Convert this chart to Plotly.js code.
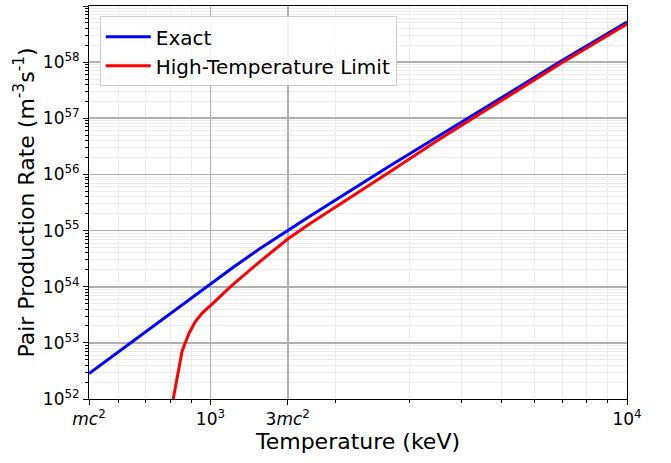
<!DOCTYPE html>
<html>
<head>
<meta charset="utf-8">
<script src="https://cdn.plot.ly/plotly-3.0.1.min.js"></script>
<style>html,body{margin:0;padding:0;background:#fff;}#chart{width:671px;height:463px;}</style>
</head>
<body>
<div id="chart"></div>
<script>
// Rest energy of the electron (keV)
const MC2 = 511;

// Exact pair production rate (m^-3 s^-1)
const exactT = [511, 597, 720, 865, 1000, 1128, 1310, 1533, 1728, 2692, 3415, 4430, 6901, 10000];
const exactRate = [2.84e52, 6.67e52, 1.88e53, 5.16e53, 1.14e54, 2.15e54, 4.70e54, 1.02e55, 1.78e55, 1.41e56, 4.10e56, 1.35e57, 1.01e58, 5.19e58];

// High-temperature limit (m^-3 s^-1)
const limitT = [800, 855, 889, 919, 955, 1000, 1128, 1310, 1533, 1728, 2692, 3491, 4430, 6901, 10000];
const limitRate = [5.0e51, 7.16e52, 1.50e53, 2.38e53, 3.40e53, 4.6e53, 1.07e54, 2.75e54, 7.08e54, 1.31e55, 1.10e56, 3.94e56, 1.19e57, 9.27e57, 4.78e58];

// Tick definitions
const xTickVals = [MC2, 1000, 3 * MC2, 10000];
const xTickText = ['<i>mc</i><sup>2</sup>', '10<sup>3</sup>', '3<i>mc</i><sup>2</sup>', '10<sup>4</sup>'];
const xMinorVals = [600, 700, 800, 900, 2000, 3000, 4000, 5000, 6000, 7000, 8000, 9000];
const yExponents = [52, 53, 54, 55, 56, 57, 58, 59];

const yTickVals = yExponents.map(e => Math.pow(10, e));
const yTickText = yExponents.map(e => '10<sup>' + e + '</sup>');
const yMinorVals = [];
yExponents.slice(0, -1).forEach(e => {
  for (let k = 2; k <= 9; k++) yMinorVals.push(k * Math.pow(10, e));
});

const font = 'DejaVu Sans, Liberation Sans, sans-serif';

const traces = [
  {x: exactT, y: exactRate, type: 'scatter', mode: 'lines', name: 'Exact',
   line: {color: '#0000ff', width: 3}},
  {x: limitT, y: limitRate, type: 'scatter', mode: 'lines', name: 'High-Temperature Limit',
   line: {color: '#ff0000', width: 3}}
];

const layout = {
  width: 671, height: 463,
  margin: {l: 89, r: 44, t: 6, b: 64},
  paper_bgcolor: '#ffffff', plot_bgcolor: '#ffffff',
  font: {family: font, color: '#000000'},
  showlegend: true,
  legend: {x: 0.02, y: 0.974, xanchor: 'left', yanchor: 'top',
           itemwidth: 45,
           bgcolor: 'rgba(255,255,255,0.85)', bordercolor: '#cccccc', borderwidth: 1,
           font: {family: font, size: 20, color: '#000000'}},
  xaxis: {
    type: 'log', range: [Math.log10(MC2), 4],
    tickmode: 'array', tickvals: xTickVals, ticktext: xTickText,
    tickfont: {family: font, size: 17, color: '#000000'},
    ticks: 'outside', ticklen: 5, tickwidth: 1, tickcolor: '#000000',
    showgrid: true, gridcolor: '#b0b0b0', gridwidth: 1.6,
    showline: true, linecolor: '#000000', linewidth: 1, mirror: true,
    zeroline: false,
    minor: {tickmode: 'array', tickvals: xMinorVals, ticks: 'outside', ticklen: 3,
            tickcolor: '#000000', showgrid: true, gridcolor: '#ebebeb', gridwidth: 1},
    title: {text: 'Temperature (keV)', font: {family: font, size: 22, color: '#000000'}, standoff: 4}
  },
  yaxis: {
    type: 'log', range: [52, 59],
    tickmode: 'array', tickvals: yTickVals, ticktext: yTickText,
    tickfont: {family: font, size: 17, color: '#000000'},
    ticks: 'outside', ticklen: 5, tickwidth: 1, tickcolor: '#000000',
    showgrid: true, gridcolor: '#b0b0b0', gridwidth: 1.6,
    showline: true, linecolor: '#000000', linewidth: 1, mirror: true,
    zeroline: false,
    minor: {tickmode: 'array', tickvals: yMinorVals, ticks: 'outside', ticklen: 3,
            tickcolor: '#000000', showgrid: true, gridcolor: '#ebebeb', gridwidth: 1},
    title: {text: 'Pair Production Rate (m<sup>-3</sup>s<sup>-1</sup>)', font: {family: font, size: 22, color: '#000000'}, standoff: 2}
  }
};

Plotly.newPlot('chart', traces, layout, {displayModeBar: false, staticPlot: true});
</script>
</body>
</html>
